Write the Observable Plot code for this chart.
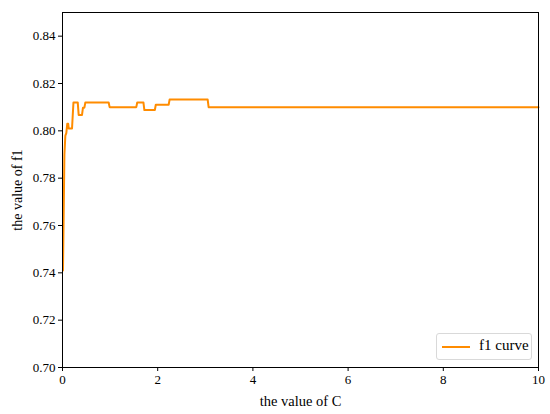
<!DOCTYPE html>
<html>
<head>
<meta charset="utf-8">
<script src="https://cdn.jsdelivr.net/npm/d3@7"></script>
<script src="https://cdn.jsdelivr.net/npm/@observablehq/plot@0.6"></script>
<style>
  html, body { margin: 0; padding: 0; background: #fff; }
  #wrap { position: relative; width: 550px; height: 414px; font-family: "Liberation Serif", serif; }
  #legend { position: absolute; left: 436px; top: 333px; width: 96px; height: 27px; border: 1px solid #d9d9d9; border-radius: 3px; background: rgba(255,255,255,0.8); box-sizing: border-box; font-size: 15px; }
  #legend .sw { position: absolute; left: 5px; top: 12px; width: 28px; height: 2px; background: darkorange; }
  #legend .tx { position: absolute; left: 42px; top: 3px; color: #000; }
</style>
</head>
<body>
<div id="wrap"><div id="legend"><div class="sw"></div><div class="tx">f1 curve</div></div></div>
<script>
const cValues = [0.01, 0.04, 0.06, 0.08, 0.10, 0.12, 0.13, 0.20, 0.23, 0.32, 0.34, 0.41, 0.43, 0.46, 0.48, 0.97, 0.99, 1.55, 1.57, 1.70, 1.72, 1.94, 1.96, 2.23, 2.25, 3.05, 3.07, 10];
const f1Values = [0.741, 0.790, 0.798, 0.799, 0.803, 0.803, 0.801, 0.801, 0.812, 0.812, 0.8067, 0.8067, 0.8098, 0.8098, 0.812, 0.812, 0.810, 0.810, 0.812, 0.812, 0.8088, 0.8088, 0.811, 0.811, 0.8132, 0.8132, 0.810, 0.810];
const xTicks = [0, 2, 4, 6, 8, 10];
const yTicks = [0.70, 0.72, 0.74, 0.76, 0.78, 0.80, 0.82, 0.84];
const seriesName = "f1 curve";

const data = cValues.map((c, i) => ({C: c, f1: f1Values[i]}));

const chart = Plot.plot({
  width: 550,
  height: 414,
  marginLeft: 62,
  marginRight: 12,
  marginTop: 12,
  marginBottom: 47,
  style: {fontFamily: "'Liberation Serif', serif", fontSize: "13px", background: "#fff", color: "#000"},
  x: {domain: [0, 10]},
  y: {domain: [0.70, 0.85]},
  marks: [
    Plot.line(data, {x: "C", y: "f1", stroke: "darkorange", strokeWidth: 2}),
    Plot.frame({stroke: "#000", strokeWidth: 1}),
    Plot.axisX({ticks: xTicks, tickSize: 4, tickPadding: 3, tickFormat: d => String(d), label: null, fontSize: 13}),
    Plot.axisX({ticks: [], tickSize: 0, label: "the value of C", labelAnchor: "center", labelArrow: "none", labelOffset: 38, fontSize: 14.5}),
    Plot.axisY({ticks: yTicks, tickSize: 4, tickPadding: 3, tickFormat: d3.format(".2f"), label: null, fontSize: 13}),
    Plot.axisY({ticks: [], tickSize: 0, label: "the value of f1", labelAnchor: "center", labelArrow: "none", labelOffset: 50, fontSize: 14})
  ]
});
document.getElementById("wrap").insertBefore(chart, document.getElementById("legend"));
</script>
</body>
</html>
